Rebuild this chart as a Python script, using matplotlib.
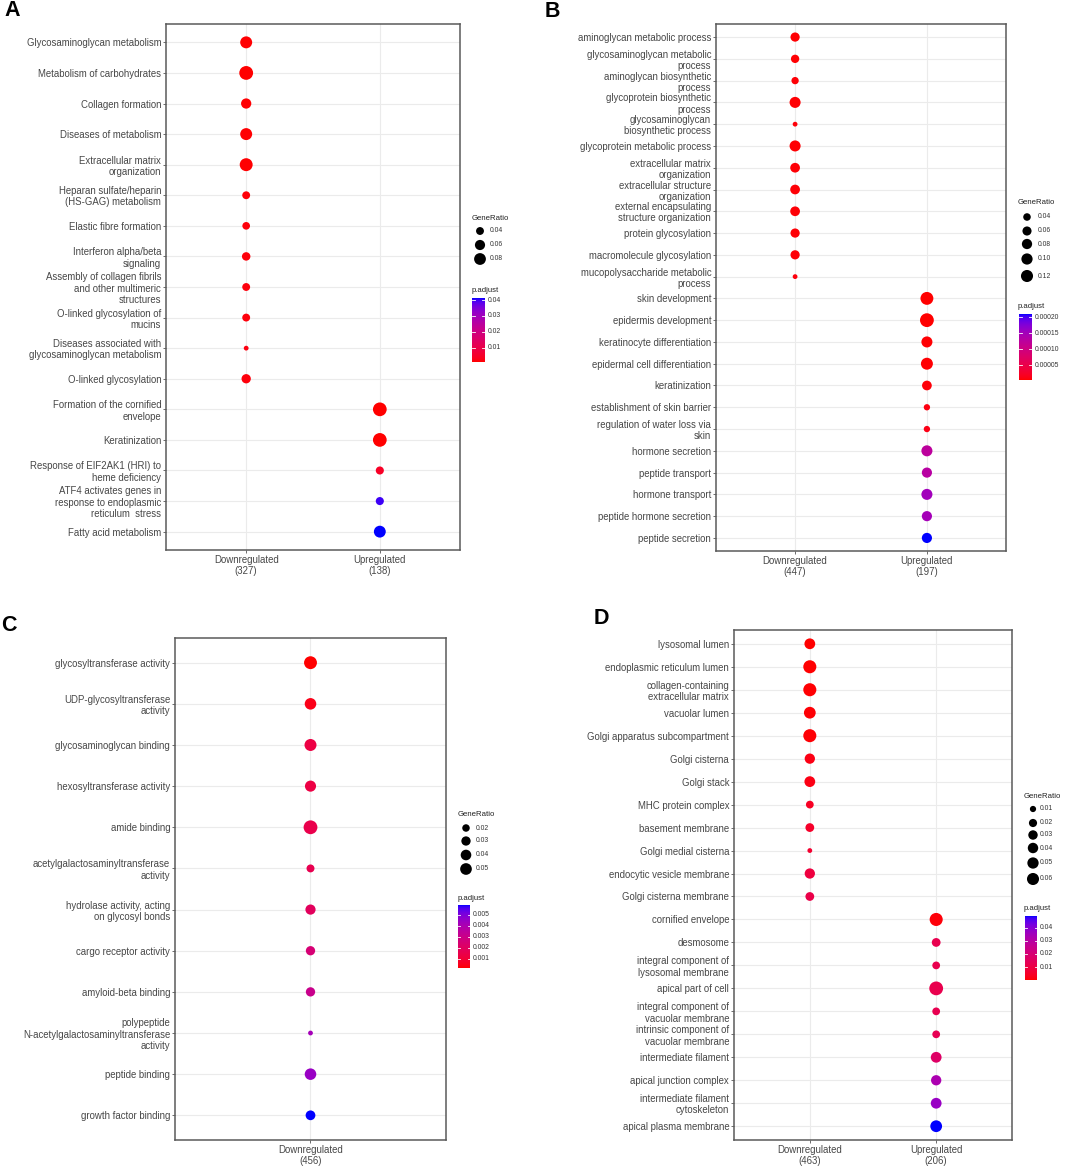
import numpy as np
import matplotlib
matplotlib.use("Agg")
import matplotlib.pyplot as plt

plt.rcParams['font.family'] = ['Liberation Sans', 'DejaVu Sans']

# ---------------- DATA ----------------
A_groups = ["Downregulated\n(327)", "Upregulated\n(138)"]
A_terms = ["Glycosaminoglycan metabolism", "Metabolism of carbohydrates", "Collagen formation",
           "Diseases of metabolism", "Extracellular matrix\norganization",
           "Heparan sulfate/heparin\n(HS-GAG) metabolism", "Elastic fibre formation",
           "Interferon alpha/beta\nsignaling", "Assembly of collagen fibrils\nand other multimeric\nstructures",
           "O-linked glycosylation of\nmucins", "Diseases associated with\nglycosaminoglycan metabolism",
           "O-linked glycosylation", "Formation of the cornified\nenvelope", "Keratinization",
           "Response of EIF2AK1 (HRI) to\nheme deficiency",
           "ATF4 activates genes in\nresponse to endoplasmic\nreticulum  stress", "Fatty acid metabolism"]
A_group = [0, 0, 0, 0, 0, 0, 0, 0, 0, 0, 0, 0, 1, 1, 1, 1, 1]
A_ratio = [0.066, 0.088, 0.050, 0.066, 0.077, 0.035, 0.034, 0.038, 0.035, 0.035, 0.028, 0.043,
           0.087, 0.087, 0.036, 0.036, 0.065]
A_padj = [0.0012, 0.0011, 0.0013, 0.0012, 0.0012, 0.0016, 0.0018, 0.0018, 0.0019, 0.0018, 0.0022, 0.0018,
          0.0011, 0.0011, 0.0045, 0.0400, 0.0413]
A_size_breaks = [0.04, 0.06, 0.08]
A_size_labels = ["0.04", "0.06", "0.08"]
A_col_breaks = [0.01, 0.02, 0.03, 0.04]
A_col_labels = ["0.01", "0.02", "0.03", "0.04"]

B_groups = ["Downregulated\n(447)", "Upregulated\n(197)"]
B_terms = ["aminoglycan metabolic process", "glycosaminoglycan metabolic\nprocess",
           "aminoglycan biosynthetic\nprocess", "glycoprotein biosynthetic\nprocess",
           "glycosaminoglycan\nbiosynthetic process", "glycoprotein metabolic process",
           "extracellular matrix\norganization", "extracellular structure\norganization",
           "external encapsulating\nstructure organization", "protein glycosylation",
           "macromolecule glycosylation", "mucopolysaccharide metabolic\nprocess",
           "skin development", "epidermis development", "keratinocyte differentiation",
           "epidermal cell differentiation", "keratinization", "establishment of skin barrier",
           "regulation of water loss via\nskin", "hormone secretion", "peptide transport",
           "hormone transport", "peptide hormone secretion", "peptide secretion"]
B_group = [0, 0, 0, 0, 0, 0, 0, 0, 0, 0, 0, 0, 1, 1, 1, 1, 1, 1, 1, 1, 1, 1, 1, 1]
B_ratio = [0.048, 0.039, 0.031, 0.073, 0.023, 0.073, 0.054, 0.054, 0.054, 0.048, 0.048, 0.023,
           0.107, 0.127, 0.073, 0.089, 0.054, 0.026, 0.026, 0.073, 0.060, 0.073, 0.060, 0.060]
B_padj = [0.000004, 0.000004, 0.000005, 0.000004, 0.000006, 0.000004, 0.000005, 0.000005, 0.000005,
          0.000005, 0.000005, 0.000007,
          0.000003, 0.000003, 0.000004, 0.000004, 0.000006, 0.000009, 0.000011,
          0.000125, 0.000130, 0.000152, 0.000150, 0.000211]
B_size_breaks = [0.04, 0.06, 0.08, 0.10, 0.12]
B_size_labels = ["0.04", "0.06", "0.08", "0.10", "0.12"]
B_col_breaks = [0.00005, 0.00010, 0.00015, 0.00020]
B_col_labels = ["0.00005", "0.00010", "0.00015", "0.00020"]

C_groups = ["Downregulated\n(456)"]
C_terms = ["glycosyltransferase activity", "UDP-glycosyltransferase\nactivity", "glycosaminoglycan binding",
           "hexosyltransferase activity", "amide binding", "acetylgalactosaminyltransferase\nactivity",
           "hydrolase activity, acting\non glycosyl bonds", "cargo receptor activity", "amyloid-beta binding",
           "polypeptide\nN-acetylgalactosaminyltransferase\nactivity", "peptide binding", "growth factor binding"]
C_group = [0, 0, 0, 0, 0, 0, 0, 0, 0, 0, 0, 0]
C_ratio = [0.0486, 0.0378, 0.0412, 0.0346, 0.057, 0.0184, 0.0288, 0.024, 0.024, 0.013, 0.0378, 0.0263]
C_padj = [0.00015, 0.0004, 0.0013, 0.0013, 0.0015, 0.0016, 0.0019, 0.0025, 0.0031, 0.0042, 0.0045, 0.0059]
C_size_breaks = [0.02, 0.03, 0.04, 0.05]
C_size_labels = ["0.02", "0.03", "0.04", "0.05"]
C_col_breaks = [0.001, 0.002, 0.003, 0.004, 0.005]
C_col_labels = ["0.001", "0.002", "0.003", "0.004", "0.005"]

D_groups = ["Downregulated\n(463)", "Upregulated\n(206)"]
D_terms = ["lysosomal lumen", "endoplasmic reticulum lumen", "collagen-containing\nextracellular matrix",
           "vacuolar lumen", "Golgi apparatus subcompartment", "Golgi cisterna", "Golgi stack",
           "MHC protein complex", "basement membrane", "Golgi medial cisterna", "endocytic vesicle membrane",
           "Golgi cisterna membrane", "cornified envelope", "desmosome",
           "integral component of\nlysosomal membrane", "apical part of cell",
           "integral component of\nvacuolar membrane", "intrinsic component of\nvacuolar membrane",
           "intermediate filament", "apical junction complex", "intermediate filament\ncytoskeleton",
           "apical plasma membrane"]
D_group = [0, 0, 0, 0, 0, 0, 0, 0, 0, 0, 0, 0, 1, 1, 1, 1, 1, 1, 1, 1, 1, 1]
D_ratio = [0.032, 0.055, 0.055, 0.041, 0.055, 0.028, 0.032, 0.0129, 0.0179, 0.0067, 0.028, 0.0179,
           0.055, 0.0179, 0.0129, 0.064, 0.0129, 0.0129, 0.032, 0.028, 0.032, 0.041]
D_padj = [0.0001, 0.0002, 0.0003, 0.0005, 0.0005, 0.0018, 0.0018, 0.0040, 0.0050, 0.0060, 0.0090, 0.0110,
          0.0008, 0.0120, 0.0120, 0.0120, 0.0125, 0.0130, 0.0170, 0.0330, 0.0370, 0.0490]
D_size_breaks = [0.01, 0.02, 0.03, 0.04, 0.05, 0.06]
D_size_labels = ["0.01", "0.02", "0.03", "0.04", "0.05", "0.06"]
D_col_breaks = [0.01, 0.02, 0.03, 0.04]
D_col_labels = ["0.01", "0.02", "0.03", "0.04"]

# ---------------- helpers ----------------
W, H = 1065, 1167
DPI = 100
DMIN, DMAX = 4.8, 13.8


def srgb2lab(rgb):
    c = np.asarray(rgb, float)
    lin = np.where(c <= 0.04045, c / 12.92, ((c + 0.055) / 1.055) ** 2.4)
    M = np.array([[0.4124, 0.3576, 0.1805], [0.2126, 0.7152, 0.0722], [0.0193, 0.1192, 0.9505]])
    xyz = lin @ M.T / np.array([0.95047, 1.0, 1.08883])
    f = np.where(xyz > 0.008856, np.cbrt(xyz), 7.787 * xyz + 16 / 116)
    return np.stack([116 * f[..., 1] - 16, 500 * (f[..., 0] - f[..., 1]), 200 * (f[..., 1] - f[..., 2])], -1)


def lab2srgb(lab):
    lab = np.asarray(lab, float)
    fy = (lab[..., 0] + 16) / 116
    fx = fy + lab[..., 1] / 500
    fz = fy - lab[..., 2] / 200
    f = np.stack([fx, fy, fz], -1)
    xyz = np.where(f ** 3 > 0.008856, f ** 3, (f - 16 / 116) / 7.787) * np.array([0.95047, 1.0, 1.08883])
    Minv = np.linalg.inv(np.array([[0.4124, 0.3576, 0.1805], [0.2126, 0.7152, 0.0722], [0.0193, 0.1192, 0.9505]]))
    lin = np.clip(xyz @ Minv.T, 0, 1)
    c = np.where(lin <= 0.0031308, 12.92 * lin, 1.055 * lin ** (1 / 2.4) - 0.055)
    return np.clip(c, 0, 1)


LAB_LO = srgb2lab([1.0, 0.0, 0.0])
LAB_HI = srgb2lab([0.0, 0.0, 1.0])


def grad(t):
    t = np.clip(np.asarray(t, float), 0, 1)[..., None]
    return lab2srgb(LAB_LO + t * (LAB_HI - LAB_LO))


def dot_s(x, lo, hi):
    t = np.clip((np.asarray(x, float) - lo) / (hi - lo), 0, 1)
    d = DMIN + (DMAX - DMIN) * np.sqrt(t)
    return (d * 72.0 / DPI) ** 2


fig = plt.figure(figsize=(W / DPI, H / DPI), dpi=DPI)
ov = fig.add_axes([0, 0, 1, 1], zorder=10)
ov.patch.set_alpha(0)
ov.axis('off')

TXT = '#474747'


def panel(box, terms, group, groups, ratio, padj, sb, sl, cb, cl, leg):
    l, t, r, b = box
    ax = fig.add_axes([l / W, 1 - b / H, (r - l) / W, (b - t) / H])
    n = len(terms)
    ratio = np.array(ratio)
    padj = np.array(padj)
    lo, hi = ratio.min(), ratio.max()
    plo, phi = padj.min(), padj.max()
    ypos = n - 1 - np.arange(n)
    xpos = np.array(group) + 1
    ax.scatter(xpos, ypos, s=dot_s(ratio, lo, hi), c=grad((padj - plo) / (phi - plo)),
               linewidths=0, zorder=3)
    ax.set_xlim(0.4, len(groups) + 0.6)
    ax.set_ylim(-0.6, n - 0.4)
    ax.set_yticks(np.arange(n))
    ax.set_yticklabels(terms[::-1], linespacing=1.15)
    ax.set_xticks(np.arange(len(groups)) + 1)
    ax.set_xticklabels(groups, linespacing=1.1)
    ax.grid(True, color='#EBEBEB', lw=0.8)
    ax.set_axisbelow(True)
    for sp in ax.spines.values():
        sp.set_color('#5A5A5A')
        sp.set_linewidth(1.1)
    ax.tick_params(labelsize=6.9, labelcolor=TXT, color='#555555', length=2.3, width=0.6, pad=1.2)

    # size legend
    tx, ty = leg['title']
    ov.text(tx, ty, "GeneRatio", fontsize=5.6, color='#222222', ha='left', va='center')
    dx, lx = leg['dot_x'], leg['lab_x']
    ov.scatter([dx] * len(sb), leg['dot_y'], s=dot_s(sb, lo, hi) * 0.8, c='black', linewidths=0, clip_on=False)
    for yv, lab in zip(leg['dot_y'], sl):
        ov.text(lx, yv, lab, fontsize=4.9, color='#333333', ha='left', va='center')
    # colour bar
    ov.text(tx, leg['ptitle'], "p.adjust", fontsize=5.6, color='#222222', ha='left', va='center')
    x0, x1, y0, y1 = leg['bar']
    g = grad(np.linspace(0, 1, 200))[:, None, :]
    ov.imshow(g, extent=(x0, x1, y1, y0), origin='lower', aspect='auto', interpolation='bilinear')
    for v, lab in zip(cb, cl):
        yy = y1 - (v - plo) / (phi - plo) * (y1 - y0)
        w = (x1 - x0) / 5
        ov.plot([x0, x0 + w], [yy, yy], color='white', lw=0.6)
        ov.plot([x1 - w, x1], [yy, yy], color='white', lw=0.6)
        ov.text(x1 + 2.5, yy, lab, fontsize=4.9, color='#333333', ha='left', va='center')


panel((166, 24, 460, 550), A_terms, A_group, A_groups, A_ratio, A_padj,
      A_size_breaks, A_size_labels, A_col_breaks, A_col_labels,
      dict(title=(472, 218), dot_x=480, dot_y=[231, 245, 259], lab_x=490, ptitle=291,
           bar=(472, 485, 298, 362)))
panel((716, 24, 1006, 551), B_terms, B_group, B_groups, B_ratio, B_padj,
      B_size_breaks, B_size_labels, B_col_breaks, B_col_labels,
      dict(title=(1018, 203), dot_x=1027, dot_y=[217, 231, 244, 259, 276], lab_x=1038, ptitle=306,
           bar=(1019, 1032, 314, 380)))
panel((175, 638, 446, 1140), C_terms, C_group, C_groups, C_ratio, C_padj,
      C_size_breaks, C_size_labels, C_col_breaks, C_col_labels,
      dict(title=(458, 815), dot_x=466, dot_y=[828, 841, 855, 869], lab_x=476, ptitle=898,
           bar=(458, 470, 905, 968)))
panel((734, 630, 1012, 1140), D_terms, D_group, D_groups, D_ratio, D_padj,
      D_size_breaks, D_size_labels, D_col_breaks, D_col_labels,
      dict(title=(1024, 797), dot_x=1033, dot_y=[809, 823, 835, 848, 863, 879], lab_x=1040, ptitle=908,
           bar=(1025, 1037, 916, 980)))

for lab, x, y in [("A", 4, 10), ("B", 545, 11.5), ("C", 1, 625.5), ("D", 594, 619)]:
    ov.text(x, y, lab, fontsize=15.5, fontweight='bold', color='black', ha='left', va='center')

ov.set_xlim(0, W)
ov.set_ylim(H, 0)

fig.savefig("out.png", dpi=DPI)
